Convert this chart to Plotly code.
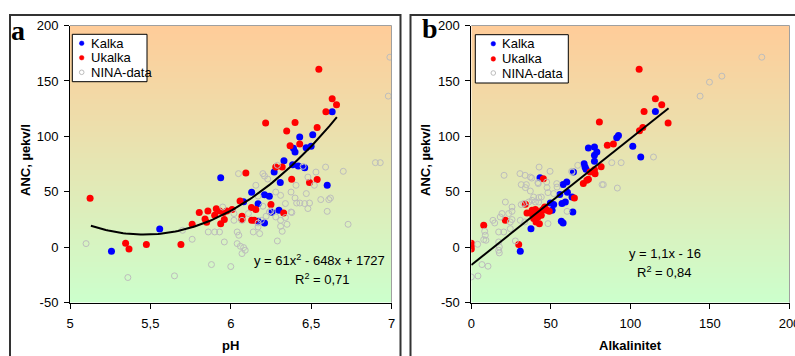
import numpy as np
import plotly.graph_objects as go

# ---------------- DATA ----------------
series_names = ["Kalka", "Ukalka", "NINA-data"]

# Panel a: pH vs ANC
a_kalka_ph = [6.631, 6.51, 6.429, 6.39, 6.40, 6.469, 6.50, 6.331, 6.385, 6.42, 6.46, 6.27, 5.9375,
              6.308, 6.60, 6.13, 6.21, 6.24, 6.08, 6.17, 6.256, 6.30, 6.17, 6.21, 5.558, 5.258]
a_kalka_anc = [122.2, 101.5, 99.4, 89.2, 85.9, 89.8, 91.0, 78.1, 74.5, 73.2, 71.8, 67.8, 62.8,
               58.3, 55.9, 49.5, 47.4, 45.9, 41.1, 39.3, 31.5, 33.3, 23.4, 21.9, 16.5, -3.6]

a_ukalka_ph = [6.548, 6.631, 6.658, 6.592, 6.217, 6.40, 6.5375, 6.348, 6.369, 6.429, 6.28, 6.32,
               6.094, 6.379, 6.5375, 6.49, 6.058, 6.25, 6.129, 6.156, 6.008, 6.329, 5.804, 5.858,
               5.84, 5.85, 5.90, 5.91, 5.93, 5.954, 5.975, 5.9375, 5.96, 6.07, 6.07, 6.13, 6.146,
               5.76, 5.125, 5.346, 5.367, 5.475, 5.69]
a_ukalka_anc = [160.6, 134.0, 128.5, 122.2, 112.0, 112.6, 108.0, 104.8, 91.6, 93.1, 72.3, 72.3,
                66.9, 61.3, 61.0, 58.3, 41.7, 38.5, 35.8, 34.0, 34.0, 30.9, 31.3, 32.7,
                25.5, 22.5, 28.8, 34.8, 32.7, 31.3, 32.7, 21.3, 25.0, 27.9, 25.0, 24.3, 24.3,
                20.7, 44.1, 3.6, -1.5, 2.4, 2.4]

a_nina_ph = [6.99, 6.98, 6.90, 6.93, 6.70, 6.59, 6.45, 6.29, 6.048, 6.20, 6.21, 6.23, 6.53, 6.48,
             6.156, 6.406, 6.52, 6.47, 6.375, 6.28, 6.17, 6.31, 6.40, 6.41, 6.43, 6.46, 6.49,
             6.56, 6.61, 6.62, 6.34, 6.48, 6.60, 6.38, 5.95, 6.02, 6.07, 6.11, 6.24, 6.31, 6.34,
             6.35, 6.73, 6.02, 6.19, 6.17, 6.28, 6.17, 6.31, 5.86, 5.90, 5.93, 6.04, 6.14, 6.32,
             6.05, 6.18, 6.04, 6.06, 6.08, 6.09, 5.96, 5.76, 6.29, 6.07, 5.10, 5.36, 5.65, 5.88,
             6.00, 5.70, 6.375, 6.25, 6.22, 6.20]
a_nina_anc = [171.4, 136.3, 76.3, 76.3, 68.5, 72.3, 73.0, 73.9, 66.4, 66.4, 64.2, 61.5, 67.8, 63.3,
              55.9, 55.9, 55.9, 48.4, 49.8, 49.8, 46.2, 46.8, 44.4, 39.9, 39.9, 39.4, 39.9,
              43.0, 43.0, 44.4, 39.4, 34.9, 32.4, 31.3, 36.3, 30.4, 24.3, 30.4, 31.8, 24.3, 26.8,
              20.7, 20.7, 24.3, 24.3, 21.9, 27.3, 18.3, 18.9, 13.8, 13.8, 13.8, 13.8, 13.8, 14.4,
              10.8, 12.3, 3.3, 0.9, -0.3, -2.7, 4.8, 7.2, 5.7, -5.7, 3.3, -27.3, -25.8, -15.6,
              -17.4, 15.3, 31.8, 32.7, 28.0, 37.0]

# Panel b: Alkalinitet vs ANC
b_kalka_alk = [115.7, 92.5, 91.4, 101.5, 106.5, 73.6, 77.4, 78.9, 77.4, 77.4, 70.9, 71.5, 72.1,
               64.2, 43.2, 60.0, 57.7, 60.4, 55.6, 63.3, 59.1, 57.0, 49.7, 51.8, 50.8, 63.8,
               56.6, 57.7, 37.5, 30.8]
b_kalka_anc = [122.5, 100.9, 98.8, 91.0, 81.4, 89.5, 90.4, 85.9, 82.9, 77.5, 75.4, 72.3, 70.3,
               67.8, 62.8, 58.8, 56.5, 49.5, 47.5, 45.3, 40.8, 39.4, 39.9, 38.5, 33.3, 31.8,
               23.4, 21.9, 16.8, -3.6]

b_ukalka_alk = [105.5, 115.7, 119.7, 108.6, 123.7, 80.5, 107.8, 105.7, 89.3, 85.5, 81.6, 77.4,
                77.8, 74.7, 72.6, 73.6, 70.4, 45.3, 64.8, 34.0, 21.4, 7.8, 0.0, 0.0, 0.0, 29.8,
                35.0, 38.2, 40.3, 42.4, 44.5, 45.5, 47.6, 49.0, 39.2, 41.9, 40.7, 42.8, 44.0,
                38.6, 41.3, 46.2]
b_ukalka_anc = [160.6, 134.0, 128.5, 122.5, 112.0, 112.9, 108.1, 105.1, 93.1, 91.9, 72.7, 70.0,
                66.4, 67.8, 60.4, 61.3, 57.4, 61.9, 44.4, 38.7, 24.3, 19.8, 3.6, 1.5, -1.5, 2.4,
                30.9, 33.3, 34.0, 31.8, 33.3, 34.8, 33.3, 32.4, 25.9, 27.3, 22.8, 21.3, 28.8,
                28.8, 30.4, 36.3]

b_nina_alk = [182.6, 149.7, 157.5, 143.8, 114.5, 94.2, 88.3, 49.5, 42.6, 20.6, 30.6, 33.8, 38.0,
              66.9, 63.1, 83.0, 47.4, 42.1, 53.7, 37.1, 41.9, 31.4, 34.6, 47.6, 37.1, 34.0, 53.9,
              48.2, 51.8, 39.2, 42.4, 44.0, 38.2, 40.3, 42.4, 36.1, 33.0, 31.4, 21.4, 25.6, 25.6,
              23.5, 19.3, 18.2, 13.6, 14.7, 25.6, 24.5, 30.8, 33.6, 48.2, 17.2, 20.4, 8.4, 8.8,
              9.2, 7.8, 4.0, 17.2, 17.6, 17.2, 17.6, 24.5, 27.7, 6.7, 10.5, 0.0, 4.2, 60.2, 63.3,
              82.2, 91.8]
b_nina_anc = [171.4, 148.9, 154.3, 136.3, 81.4, 76.3, 76.3, 68.5, 72.3, 64.9, 66.4, 64.9, 62.4,
              73.9, 68.5, 56.5, 58.8, 57.4, 57.4, 63.3, 58.3, 56.5, 56.5, 53.8, 50.7, 53.8, 54.3,
              49.3, 48.4, 45.3, 44.8, 45.3, 42.3, 40.8, 40.8, 40.8, 39.4, 38.5, 40.8, 36.3, 32.4,
              30.4, 30.4, 27.3, 24.3, 21.9, 25.0, 22.8, 24.3, 22.8, 21.3, 13.8, 13.8, 14.4, 10.8,
              6.3, 6.9, 2.7, 4.8, 0.3, -2.7, -5.1, 16.8, 5.7, -15.6, -17.1, -26.8, -25.9, 32.4,
              67.8, 56.5, 53.4]

# Trend lines (as drawn)
trend_a_coef = [73.5, -802.6, 2202.5]   # quadratic
trend_a_span = [5.13, 6.66]
trend_b_coef = [1.14, -16.0]            # linear
trend_b_span = [0.0, 124.0]

eq_a = ["y = 61x<sup>2</sup> - 648x + 1727", "R<sup>2</sup> = 0,71"]
eq_b = ["y = 1,1x - 16", "R<sup>2</sup> = 0,84"]

xa_ticks = [5, 5.5, 6, 6.5, 7]
xa_ticktext = ["5", "5,5", "6", "6,5", "7"]
xb_ticks = [0, 50, 100, 150, 200]
xb_ticktext = ["0", "50", "100", "150", "200"]
y_ticks = [-50, 0, 50, 100, 150, 200]
y_ticktext = ["-50", "0", "50", "100", "150", "200"]

# ---------------- STYLE ----------------
W, H = 795, 356
SANS = "Liberation Sans, Arial, sans-serif"
SERIF = "Liberation Serif, Times New Roman, serif"
BLUE, RED, GRAY = "#0000FF", "#FF0000", "#BDBDBD"
BG_BOT, BG_TOP = "#CCFFCC", "#FFCC99"

def px(x):
    return x / W

def py(y):
    return 1 - y / H

fig = go.Figure()

# gradient backgrounds
nb = 250
y_edges = list(np.linspace(-50, 200, nb + 1))
z_bg = [[i / (nb - 1)] for i in range(nb)]
for xr, xa, ya in [([5, 7], "x", "y"), ([0, 200], "x2", "y2")]:
    fig.add_trace(go.Heatmap(x=xr, y=y_edges, z=z_bg, xaxis=xa, yaxis=ya,
                             colorscale=[[0, BG_BOT], [1, BG_TOP]], showscale=False,
                             hoverinfo="skip", zmin=0, zmax=1))

def add_panel(xa, ya, kx, ky, ux, uy, nx, ny):
    fig.add_trace(go.Scatter(x=kx, y=ky, mode="markers", name=series_names[0], xaxis=xa, yaxis=ya,
                             marker=dict(color=BLUE, size=7), showlegend=False))
    fig.add_trace(go.Scatter(x=ux, y=uy, mode="markers", name=series_names[1], xaxis=xa, yaxis=ya,
                             marker=dict(color=RED, size=7), showlegend=False))
    fig.add_trace(go.Scatter(x=nx, y=ny, mode="markers", name=series_names[2], xaxis=xa, yaxis=ya,
                             marker=dict(color="rgba(0,0,0,0)", size=6, line=dict(color=GRAY, width=1)),
                             showlegend=False))

add_panel("x", "y", a_kalka_ph, a_kalka_anc, a_ukalka_ph, a_ukalka_anc, a_nina_ph, a_nina_anc)
add_panel("x2", "y2", b_kalka_alk, b_kalka_anc, b_ukalka_alk, b_ukalka_anc, b_nina_alk, b_nina_anc)

# trend lines
ta = np.linspace(trend_a_span[0], trend_a_span[1], 100)
fig.add_trace(go.Scatter(x=ta, y=np.polyval(trend_a_coef, ta), mode="lines", xaxis="x", yaxis="y",
                         line=dict(color="black", width=2), showlegend=False, hoverinfo="skip"))
tb = np.array(trend_b_span)
fig.add_trace(go.Scatter(x=tb, y=np.polyval(trend_b_coef, tb), mode="lines", xaxis="x2", yaxis="y2",
                         line=dict(color="black", width=2), showlegend=False, hoverinfo="skip"))

ydom = [py(302.7), py(25.5)]
ax_common = dict(showgrid=False, zeroline=False, showline=True, linecolor="black", linewidth=1,
                 ticks="outside", ticklen=5, tickcolor="black", tickwidth=1, automargin=False,
                 ticklabeloverflow="allow",
                 tickfont=dict(family=SANS, size=13, color="black"))

fig.update_layout(
    width=W, height=H, margin=dict(l=0, r=0, t=0, b=0, autoexpand=False),
    paper_bgcolor="white", plot_bgcolor="white", showlegend=False,
    xaxis=dict(domain=[px(70), px(391.5)], range=[5, 7], anchor="y", tickvals=xa_ticks,
               ticktext=xa_ticktext, ticklabelstandoff=4, **ax_common),
    yaxis=dict(domain=ydom, range=[-50, 200], anchor="x", tickvals=y_ticks, ticktext=y_ticktext,
               ticklabelstandoff=3, **ax_common),
    xaxis2=dict(domain=[px(471.3), px(789.5)], range=[0, 200], anchor="y2", tickvals=xb_ticks,
                ticktext=xb_ticktext, ticklabelstandoff=4, **ax_common),
    yaxis2=dict(domain=ydom, range=[-50, 200], anchor="x2", tickvals=y_ticks, ticktext=y_ticktext,
                ticklabelstandoff=3, **ax_common),
)

shapes = []
# outer frames
shapes.append(dict(type="rect", xref="paper", yref="paper", x0=px(10), x1=px(400.5), y0=-0.05,
                   y1=py(15), line=dict(color="#333333", width=2), fillcolor="rgba(0,0,0,0)"))
shapes.append(dict(type="rect", xref="paper", yref="paper", x0=px(410.5), x1=1.05, y0=-0.05,
                   y1=py(15), line=dict(color="#333333", width=2), fillcolor="rgba(0,0,0,0)"))
# plot-area grey border (top, right)
for xa, ya in [("x", "y"), ("x2", "y2")]:
    shapes.append(dict(type="line", xref=xa + " domain", yref=ya + " domain", x0=0, x1=1, y0=1, y1=1,
                       line=dict(color="#A0A0A0", width=1), layer="above"))
    shapes.append(dict(type="line", xref=xa + " domain", yref=ya + " domain", x0=1, x1=1, y0=0, y1=1,
                       line=dict(color="#A0A0A0", width=1), layer="above"))

annotations = []

# legend boxes (manual)
def legend(box, mx, tx, ys):
    x0, x1, y0, y1 = box
    shapes.append(dict(type="rect", xref="paper", yref="paper", x0=px(x0), x1=px(x1), y0=py(y1),
                       y1=py(y0), line=dict(color="black", width=1), fillcolor="white", layer="above"))
    styles = [dict(fillcolor=BLUE, line=dict(color=BLUE, width=0.5)),
              dict(fillcolor=RED, line=dict(color=RED, width=0.5)),
              dict(fillcolor="white", line=dict(color=GRAY, width=1))]
    for name, yy, st in zip(series_names, ys, styles):
        shapes.append(dict(type="circle", xref="paper", yref="paper", xsizemode="pixel",
                           ysizemode="pixel", xanchor=px(mx), yanchor=py(yy), x0=-2.3, x1=2.3,
                           y0=-2.3, y1=2.3, layer="above", **st))
        annotations.append(dict(text=name, xref="paper", yref="paper", x=px(tx), y=py(yy),
                                xanchor="left", yanchor="middle", showarrow=False,
                                font=dict(family=SANS, size=13, color="black")))

legend((72.3, 147, 34.3, 81.7), 81.7, 88.5, [43.3, 57.7, 72.3])
legend((475.3, 568.3, 34.7, 83), 493.3, 500.3, [43.7, 58.9, 73.0])

def ann(text, x, y, size=13, bold=False, family=SANS, xanchor="center", angle=0):
    annotations.append(dict(text=("<b>%s</b>" % text) if bold else text, xref="paper", yref="paper",
                            x=px(x), y=py(y), xanchor=xanchor, yanchor="middle", showarrow=False,
                            textangle=angle, font=dict(family=family, size=size, color="black")))

ann("pH", 230, 345, bold=True)
ann("Alkalinitet", 630, 345, bold=True)
ann("ANC, µekv/l", 25, 160, bold=True, angle=-90)
ann("ANC, µekv/l", 425, 160, bold=True, angle=-90)
ann("a", 18.3, 30.5, size=28, bold=True, family=SERIF)
ann("b", 430.3, 28.5, size=28, bold=True, family=SERIF)
ann(eq_a[0], 387, 260, xanchor="right")
ann(eq_a[1], 322.5, 279)
ann(eq_b[0], 664.7, 253)
ann(eq_b[1], 664.7, 271.5)

fig.update_layout(shapes=shapes, annotations=annotations)
fig.write_html("out.html", config={"displayModeBar": False},
               post_script="document.body.style.margin='0';document.body.style.overflow='hidden';")
